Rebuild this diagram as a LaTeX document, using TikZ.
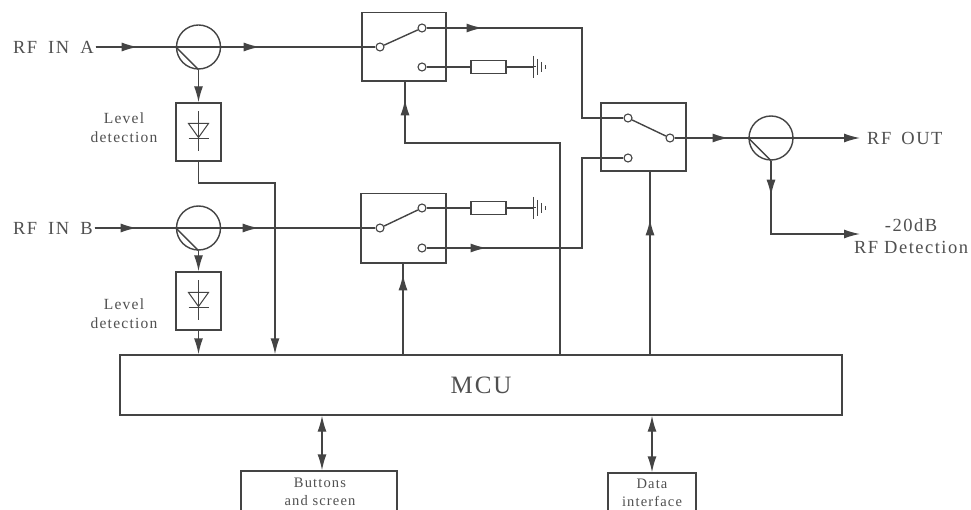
\documentclass[tikz,border=0pt]{standalone}
\usepackage{fontspec}
\setmainfont[LetterSpace=8]{Liberation Serif}
\usetikzlibrary{arrows.meta,decorations.markings}
\definecolor{ink}{HTML}{444444}
\definecolor{txt}{HTML}{505050}
\tikzset{
  wire/.style={draw=ink,line width=1.4pt},
  box/.style={draw=ink,line width=1.4pt,rectangle,inner sep=0pt,fill=none},
  contact/.style={draw=ink,line width=1.1pt,circle,fill=white,minimum size=8pt,inner sep=0pt},
  split/.style={draw=ink,line width=1.4pt,circle,minimum size=44pt,inner sep=0pt},
  res/.style={draw=ink,line width=1.1pt,rectangle,fill=white,minimum width=35pt,minimum height=12.5pt,inner sep=0pt},
  lbl/.style={text=txt,font=\fontsize{18.5}{20}\selectfont,inner sep=0pt},
  slbl/.style={text=txt,font=\fontsize{15.5}{19}\selectfont,align=center,inner sep=0pt},
  tlbl/.style={text=txt,font=\fontsize{14.5}{18}\selectfont,align=center,inner sep=0pt},
  marrow/.style={postaction={decorate},decoration={markings,mark=at position #1 with {\arrow{Latex[length=16pt,width=9pt]}}}},
  endarrow/.style={-{Latex[length=16pt,width=9pt]}},
  bothtips/.style={{Latex[length=16pt,width=9pt]}-{Latex[length=16pt,width=9pt]}},
  pics/gnd/.style={code={
    \draw[ink,line width=1pt] (0,0) -- (3,0);
    \draw[ink,line width=1pt] (0,-11) -- (0,11);
    \draw[ink,line width=1pt] (4,-8) -- (4,8);
    \draw[ink,line width=1pt] (8,-5) -- (8,5);
    \draw[ink,line width=1pt] (12,-2) -- (12,2);
  }},
  pics/diode/.style={code={
    \draw[ink,line width=1pt] (0,-20) -- (0,20);
    \draw[ink,line width=1pt] (-10,-8) -- (10,-8) -- (0,6) -- cycle;
    \draw[ink,line width=1pt] (-10,7) -- (10,7);
  }}
}
\begin{document}
\begin{tikzpicture}[x=1pt,y=-1pt]
\useasboundingbox (0,0) rectangle (971,510);
\clip (0,0) rectangle (971,510);
\fill[white] (0,0) rectangle (971,510);

% labels
\node[lbl,anchor=west,outer sep=2pt] (rfa) at (11,47) {RF\hspace{5pt} IN\hspace{5pt} A};
\node[lbl,anchor=west,outer sep=2pt] (rfb) at (11,228) {RF\hspace{5pt} IN\hspace{5pt} B};
\node[lbl,anchor=west] (rfo) at (867,138) {RF\hspace{4pt} OUT};
\node[lbl] (db) at (911,225) {-20dB};
\node[lbl] (det) at (911,247) {RF Detection};
\node[slbl] (lva) at (124,128) {Level\\detection};
\node[slbl] (lvb) at (124,314) {Level\\detection};

% boxes
\node[box,minimum width=84pt,minimum height=68.5pt] (swa) at (404,46.8) {};
\node[box,minimum width=85pt,minimum height=69.5pt] (swb) at (403.5,228.3) {};
\node[box,minimum width=85pt,minimum height=68pt] (swc) at (643.5,137) {};
\node[box,minimum width=45pt,minimum height=58pt] (da) at (198.5,132) {};
\node[box,minimum width=45pt,minimum height=58pt] (db2) at (198.5,301) {};
\node[box,minimum width=722pt,minimum height=60pt] (mcu) at (481,385) {};
\node[text=txt,inner sep=0pt,font=\fontsize{25}{27}\selectfont] (mcut) at (481,385) {MCU};
\node[box,minimum width=156pt,minimum height=60pt] (btn) at (319,501) {};
\node[box,minimum width=88pt,minimum height=60pt] (dif) at (652,503) {};
\node[tlbl] (btnt) at (320,491.5) {Buttons\\and screen};
\node[tlbl] (dift) at (652,492.5) {Data\\interface};

% splitters
\node[split] (ca) at (198.5,47) {};
\node[split] (cb) at (198.5,228) {};
\node[split] (co) at (771,138) {};
\draw[wire] (ca.west) -- (ca.south);
\draw[wire] (cb.west) -- (cb.south);
\draw[wire] (co.west) -- (co.south);

% contacts
\node[contact] (ap) at (380,47) {};
\node[contact] (at) at (422,28) {};
\node[contact] (ab) at (422,67) {};
\node[contact] (bp) at (380,228) {};
\node[contact] (bt) at (422,208) {};
\node[contact] (bb) at (422,248) {};
\node[contact] (ct) at (628,118) {};
\node[contact] (cb2) at (628,158) {};
\node[contact] (cp) at (670,138) {};

% resistors and grounds
\node[res] (ra) at (488.5,67) {};
\node[res] (rb) at (488.5,208) {};
\coordinate (ga) at (533,67);
\coordinate (gb) at (533,208);
\path (ga) pic {gnd};
\path (gb) pic {gnd};

% diodes
\path (198.5,131.5) pic {diode};
\path (198.5,300.5) pic {diode};

% route points
\coordinate (ua) at (582,28);
\coordinate (ub) at (582,118);
\coordinate (va) at (582,248);
\coordinate (vb) at (582,158);
\coordinate (ma) at (560,143);
\coordinate (mb) at (405,143);
\coordinate (na) at (198.5,183);
\coordinate (nb) at (275,183);
\coordinate (oc) at (771,234);
\coordinate (ootip) at (860,138);
\coordinate (dtip) at (860,234);

% connectors
\draw[wire,marrow=42pt] (rfa.east) -- (ap);
\draw[wire,marrow=164pt] (rfa.east) -- (ap);
\draw[wire,marrow=42pt] (rfb.east) -- (bp);
\draw[wire,marrow=164pt] (rfb.east) -- (bp);
\draw[wire,endarrow] (ca.south) -- (da.north);
\draw[wire,endarrow] (cb.south) -- (db2.north);
\draw[wire,endarrow] (da.south) -- (na) -- (nb) -- (nb |- mcu.north);
\draw[wire,endarrow] (db2.south) -- (db2.south |- mcu.north);
\draw[wire] (ap) -- (at);
\draw[wire] (bp) -- (bt);
\draw[wire] (cp) -- (ct);
\draw[wire,marrow=56pt] (at) -- (ua) -- (ub) -- (ct);
\draw[wire,marrow=60pt] (bb) -- (va) -- (vb) -- (cb2);
\draw[wire] (ab) -- (ra);
\draw[wire] (ra) -- (ga);
\draw[wire] (bt) -- (rb);
\draw[wire] (rb) -- (gb);
\draw[wire,marrow=54pt] (cp) -- (co.west);
\draw[wire,endarrow] (co.west) -- (ootip);
\draw[wire,marrow=35pt,endarrow] (co.south) -- (oc) -- (dtip);
\draw[wire,marrow=80pt] (mcu.north -| 403,0) -- (swb.south -| 403,0);
\draw[wire,marrow=135pt] (mcu.north -| 650,0) -- (swc.south -| 650,0);
\draw[wire,marrow=410pt] (mcu.north -| ma) -- (ma) -- (mb) -- (mb |- swa.south);
\draw[wire,bothtips] (mcu.south -| 322,0) -- (btn.north -| 322,0);
\draw[wire,bothtips] (mcu.south -| 652,0) -- (dif.north -| 652,0);
\end{tikzpicture}
\end{document}
